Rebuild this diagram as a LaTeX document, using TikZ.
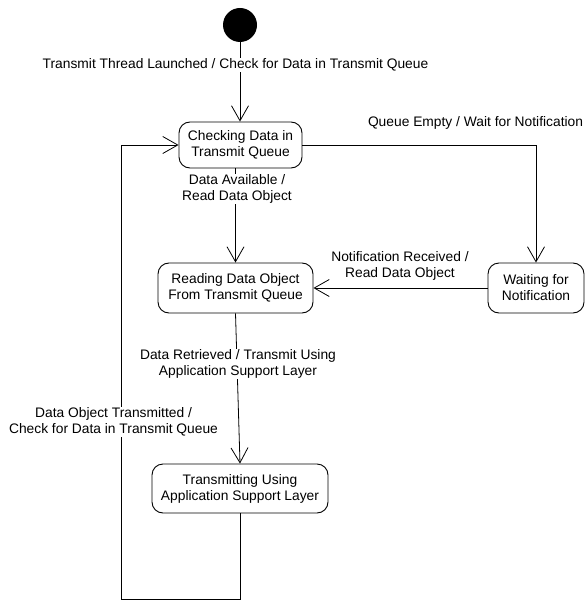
\documentclass[tikz,border=0pt]{standalone}
\usepackage{fontspec}
\setmainfont{Liberation Sans}
\usetikzlibrary{arrows.meta}
\begin{document}
\begin{tikzpicture}[x=1pt,y=-1pt,
  font=\fontsize{13.8}{16}\selectfont,
  state/.style={draw,line width=0.9pt,rounded corners=11pt,align=center,inner sep=0pt},
  lbl/.style={align=center,inner sep=1pt},
  wlbl/.style={lbl,fill=white},
  conn/.style={line width=0.8pt,-{Straight Barb[length=15pt,width=17pt,line width=0.8pt]}},
  plain/.style={line width=0.8pt}]
\useasboundingbox (0,0) rectangle (585,601);
\node[circle,fill=black,minimum size=34pt,inner sep=0pt] (init) at (240,25) {};
\node[state,minimum width=123pt,minimum height=46pt] (check) at (240.5,145) {Checking Data in\\Transmit Queue};
\node[state,minimum width=155pt,minimum height=50pt] (read) at (235.5,288) {Reading Data Object\\From Transmit Queue};
\node[state,minimum width=96pt,minimum height=50pt] (wait) at (536,288) {Waiting for\\Notification};
\node[state,minimum width=176pt,minimum height=49pt] (trans) at (240,488.5) {Transmitting Using\\Application Support Layer};
\coordinate (corner) at (121,599);
\draw[conn] (init) -- (init |- check.north);
\draw[conn] (check.east) -| (wait.north);
\draw[conn] (read.north |- check.south) -- (read.north);
\draw[conn] (wait.west) -- (read.east);
\draw[conn] (read.south) -- (trans.north);
\draw[conn] (trans.south) |- (corner) |- (check.west);
\node[wlbl] (l1) at (235.5,65) {Transmit Thread Launched / Check for Data in Transmit Queue};
\node[lbl] (l2) at (475.5,123) {Queue Empty / Wait for Notification};
\node[wlbl] (l3) at (237,189) {Data Available /\\Read Data Object};
\node[lbl] (l4) at (400,266) {Notification Received /\\Read Data Object};
\node[wlbl] (l5) at (238,364) {Data Retrieved / Transmit Using\\Application Support Layer};
\node[wlbl] (l6) at (113.5,422) {Data Object Transmitted /\\Check for Data in Transmit Queue};
\end{tikzpicture}
\end{document}
